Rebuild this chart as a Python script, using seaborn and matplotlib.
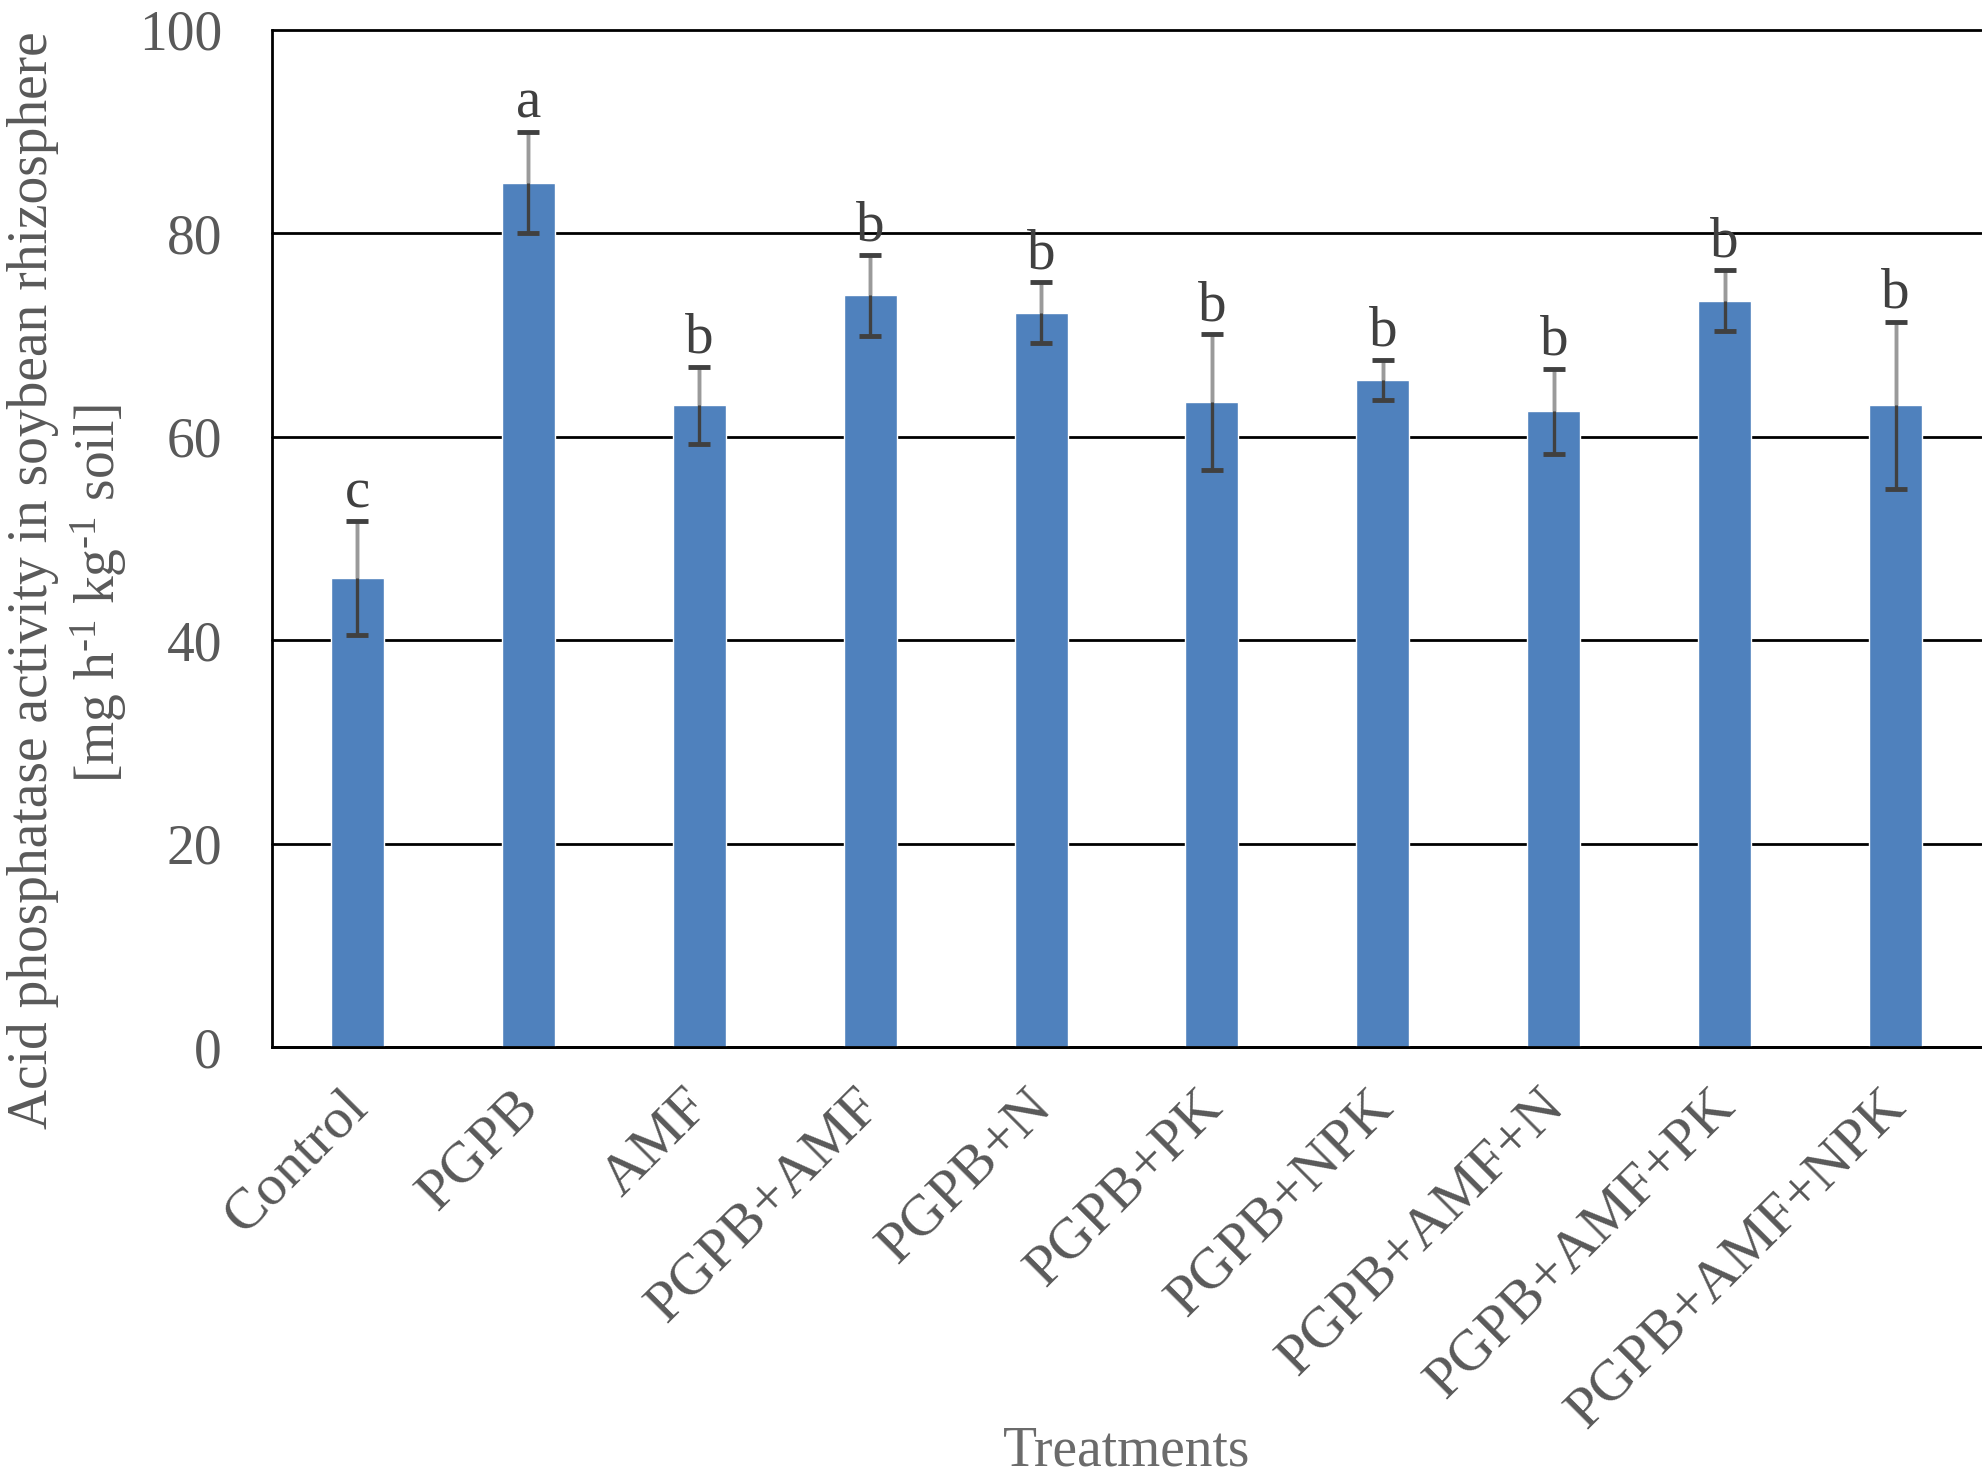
import matplotlib
matplotlib.use("Agg")
import matplotlib.pyplot as plt
import matplotlib.transforms as mtransforms
import seaborn as sns
import numpy as np
import pandas as pd

treatments = ["Control", "PGPB", "AMF", "PGPB+AMF", "PGPB+N", "PGPB+PK",
              "PGPB+NPK", "PGPB+AMF+N", "PGPB+AMF+PK", "PGPB+AMF+NPK"]
means = [46.1, 85.0, 63.1, 73.9, 72.2, 63.4, 65.6, 62.5, 73.4, 63.1]
errors = [5.6, 5.0, 3.8, 4.0, 3.0, 6.7, 2.0, 4.2, 3.0, 8.2]
letters = ["c", "a", "b", "b", "b", "b", "b", "b", "b", "b"]
yticks = [0, 20, 40, 60, 80, 100]

sns.set_style("white")
plt.rcParams["font.family"] = ["Liberation Serif", "DejaVu Serif"]
plt.rcParams["mathtext.fontset"] = "custom"
plt.rcParams["mathtext.rm"] = "Liberation Serif"
plt.rcParams["mathtext.it"] = "Liberation Serif:italic"

df = pd.DataFrame({"Treatment": treatments, "Mean": means, "SD": errors})

W, H = 1983, 1482
fig = plt.figure(figsize=(W / 100, H / 100), dpi=100)
ax = fig.add_axes([272 / W, 1 - 1047 / H, (1981 - 272) / W, (1047 - 30) / H])

sns.barplot(data=df, x="Treatment", y="Mean", color="#4F81BD", saturation=1,
            width=0.31, errorbar=None, ax=ax, zorder=2)

x = np.arange(len(treatments))
m = np.array(means)
e = np.array(errors)
dl, caps, bars = ax.errorbar(x, m, yerr=e, fmt="none", ecolor="#404040",
                             elinewidth=2.4, capsize=8, capthick=3.5, zorder=3)
for c in caps:
    c.set_zorder(5)
ax.vlines(x, m, m + e, color="#9a9a9a", lw=2.4, zorder=4)

for i, (mv, ev, lt) in enumerate(zip(means, errors, letters)):
    ax.annotate(lt, (i, mv + ev), xytext=(0, 10), textcoords="offset points",
                ha="center", va="baseline", fontsize=41, color="#404040")

ax.set_xlim(-0.5, len(treatments) - 0.5)
ax.set_ylim(0, 100)
ax.set_yticks(yticks)
ax.set_yticklabels([str(t) for t in yticks])
ax.yaxis.grid(True, color="black", lw=2, zorder=1)
ax.set_axisbelow(True)
for gl in ax.get_ygridlines():
    gl.set_clip_on(False)

for s in ["top", "right"]:
    ax.spines[s].set_visible(False)
for s in ["left", "bottom"]:
    ax.spines[s].set_color("black")
    ax.spines[s].set_linewidth(2)

ax.tick_params(axis="y", direction="out", length=12, width=2, color="black",
               labelsize=40, labelcolor="#595959", pad=24)
ax.set_xticks(x)
ax.set_xticks(np.arange(-0.5, len(treatments), 1.0), minor=True)
ax.tick_params(axis="x", which="major", length=0, labelsize=42,
               labelcolor="#595959", pad=37)
ax.tick_params(axis="x", which="minor", direction="out", length=11.5, width=2,
               color="black")
ax.set_xticklabels(treatments, rotation=45, ha="right", va="center",
                   rotation_mode="anchor")
offset = mtransforms.ScaledTranslation(0.02, 0, fig.dpi_scale_trans)
for lab in ax.get_xticklabels():
    lab.set_transform(lab.get_transform() + offset)

ax.set_xlabel("Treatments", fontsize=40, color="#6b6b6b", va="baseline")
ax.xaxis.set_label_coords(0.5, (1047 - 1465) / 1017)
ax.set_ylabel("")

fig.text(47 / W, 1 - 580 / H, "Acid phosphatase activity in soybean rhizosphere",
         rotation=90, rotation_mode="anchor", ha="center", va="baseline",
         fontsize=40, color="#595959")
fig.text(115 / W, 1 - 593 / H,
         r"[mg h$^{\text{-1}}$ kg$^{\text{-1}}$ soil]",
         rotation=90, rotation_mode="anchor", ha="center", va="baseline",
         fontsize=40, color="#595959")

fig.savefig("out.png", dpi=100)
